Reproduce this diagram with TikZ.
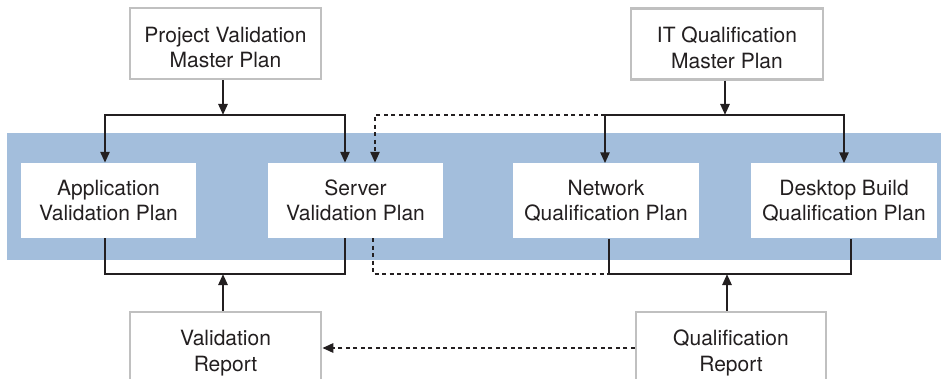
\documentclass[tikz,border=0pt]{standalone}
\usepackage{fontspec}
\setmainfont{TeX Gyre Heros}
\usetikzlibrary{arrows.meta}
\definecolor{band}{RGB}{163,190,220}
\definecolor{boxgray}{RGB}{192,192,192}
\definecolor{ink}{RGB}{35,31,32}
\begin{document}
\begin{tikzpicture}[x=1pt,y=-1pt,
  txt/.style={align=center, text=ink, inner sep=0pt, font=\fontsize{21}{25.5}\selectfont},
  outerbox/.style={draw=boxgray, line width=2.5pt, fill=white, minimum width=191pt, minimum height=71pt, inner sep=0pt},
  boxlabel/.style={txt, yshift=-4pt},
  innerbox/.style={txt, fill=white, minimum height=75pt},
  conn/.style={draw=ink, line width=2.5pt},
  tip/.style={-{Triangle[length=11pt,width=9pt]}},
  twotip/.style={{Triangle[length=11pt,width=9pt]}-{Triangle[length=11pt,width=9pt]}},
  dotted conn/.style={conn, dash pattern=on 4pt off 3.5pt}]
\clip (0,0) rectangle (944,379);
\fill[white] (0,0) rectangle (944,379);
% band
\fill[band] (7,133) rectangle (941,260);
% outer boxes
\node[outerbox] (pvmp) at (225.5,43.5) {};
\node[boxlabel] (pvmp-t) at (pvmp.center) {Project Validation\\Master Plan};
\node[outerbox, minimum width=192pt] (itq) at (727,44) {};
\node[boxlabel] (itq-t) at (itq.center) {IT Qualification\\Master Plan};
\node[outerbox, minimum height=72pt] (vr) at (225.5,348) {};
\node[boxlabel, yshift=-1pt] (vr-t) at (vr.center) {Validation\\Report};
\node[outerbox, minimum width=190pt, minimum height=72pt] (qr) at (731,348) {};
\node[boxlabel, yshift=-1pt] (qr-t) at (qr.center) {Qualification\\Report};
% inner boxes
\node[innerbox, minimum width=175pt] (app) at (108.5,200.5) {Application\\Validation Plan};
\node[innerbox, minimum width=175pt] (server) at (355.5,200.5) {Server\\Validation Plan};
\node[innerbox, minimum width=186pt] (network) at (606,201) {Network\\Qualification Plan};
\node[innerbox, minimum width=186pt] (desktop) at (844,201) {Desktop Build\\Qualification Plan};
% junction coordinates
\coordinate (tl) at (105,115);
\coordinate (tm) at (223,115);
\coordinate (tr) at (345,115);
\coordinate (ql) at (605,115);
\coordinate (qm) at (725,115);
\coordinate (qrr) at (844,115);
\coordinate (dk) at (375,115);
\coordinate (bl) at (105,274);
\coordinate (bm) at (223,274);
\coordinate (br) at (345,274);
\coordinate (nl) at (609,274);
\coordinate (nm) at (727,274);
\coordinate (nr) at (851,274);
\coordinate (dk2) at (373,274);
% top left tree
\draw[conn, tip] (pvmp.south -| tm) -- (tm);
\draw[conn, twotip] (app.north -| tl) -- (tl) -- (tr) -- (server.north -| tr);
% top right tree
\draw[conn, tip] (itq.south -| qm) -- (qm);
\draw[conn, twotip] (network.north -| ql) -- (ql) -- (qrr) -- (desktop.north -| qrr);
% dashed top
\draw[dotted conn, tip] (ql) -- (dk) -- (server.north -| dk);
% bottom left
\draw[conn] (app.south -| bl) -- (bl) -- (br) -- (server.south -| br);
\draw[conn, tip] (vr.north -| bm) -- (bm);
% bottom right
\draw[conn] (network.south -| nl) -- (nl) -- (nr) -- (desktop.south -| nr);
\draw[conn, tip] (qr.north -| nm) -- (nm);
% dashed bottom
\draw[dotted conn] (server.south -| dk2) -- (dk2) -- (nl);
\draw[dotted conn, tip] (qr.west) -- (vr.east);
\end{tikzpicture}
\end{document}
